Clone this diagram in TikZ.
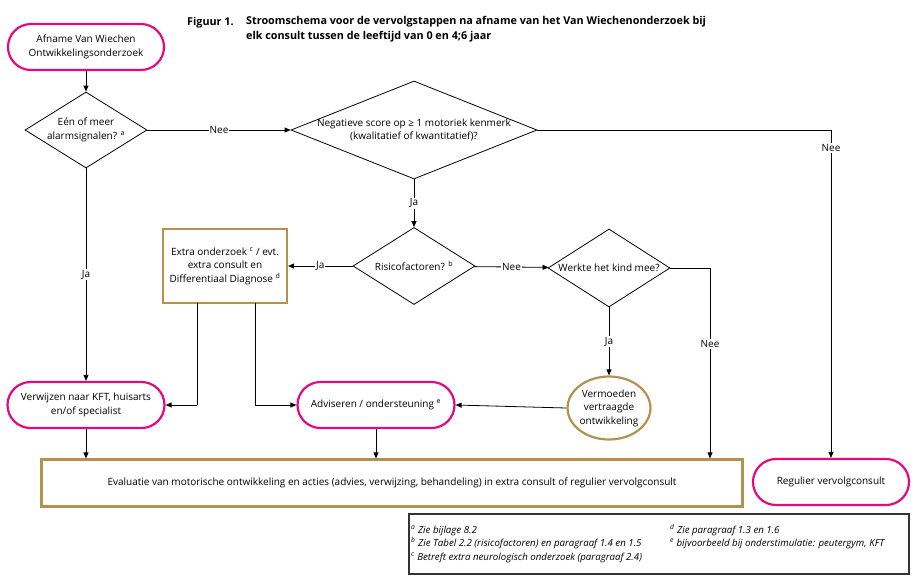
\documentclass[tikz,border=0pt]{standalone}
\usepackage{fontspec}
\setmainfont{Open Sans}
\usetikzlibrary{shapes.geometric,arrows.meta}
\definecolor{pinkc}{HTML}{E5097F}
\definecolor{goldc}{HTML}{B3914F}
\definecolor{boxgray}{HTML}{333333}
\begin{document}
\begin{tikzpicture}[x=1pt,y=-1pt,
  font=\fontsize{10}{13.5}\selectfont,
  term/.style={draw=pinkc,line width=2.2pt,rounded corners=23pt,minimum height=46pt,align=center,inner sep=0pt},
  gbox/.style={draw=goldc,line width=2.2pt,align=center,inner sep=0pt},
  dec/.style={draw,shape=diamond,line width=0.8pt,inner sep=0pt},
  arr/.style={-{Triangle[length=6pt,width=5pt]},line width=0.8pt},
  ln/.style={line width=0.8pt},
  lab/.style={fill=white,inner sep=1pt},
  fntext/.style={anchor=base west,inner sep=0pt,font=\fontsize{9.7}{13.5}\selectfont\itshape}]
\useasboundingbox (0,0) rectangle (915,582);
% title
\node[anchor=west,font=\fontsize{10.8}{15}\selectfont\bfseries,inner sep=0pt] (fig) at (187,23) {Figuur 1.};
\node[anchor=north west,align=left,font=\fontsize{10.8}{15}\selectfont\bfseries,inner sep=0pt] (title) at (246,16) {Stroomschema voor de vervolgstappen na afname van het Van Wiechenonderzoek bij\\elk consult tussen de leeftijd van 0 en 4;6 jaar};
% nodes
\node[term,minimum width=156pt] (start) at (86,47) {Afname Van Wiechen\\Ontwikkelingsonderzoek};
\node[dec,minimum width=122pt,minimum height=76pt,label={[align=center]center:Eén of meer\\alarmsignalen? \textsuperscript{a}}] (d1) at (86,130) {};
\node[dec,minimum width=246pt,minimum height=98pt,label={[align=center]center:Negatieve score op ≥ 1 motoriek kenmerk\\(kwalitatief of kwantitatief)?}] (d2) at (414,130) {};
\node[dec,minimum width=122pt,minimum height=77pt,label={center:Risicofactoren? \textsuperscript{b}}] (d3) at (414,266) {};
\node[dec,minimum width=122pt,minimum height=78pt,label={center:Werkte het kind mee?}] (d4) at (609,268) {};
\node[gbox,minimum width=124pt,minimum height=74pt] (extra) at (225,266) {Extra onderzoek \textsuperscript{c} / evt.\\extra consult en\\Differentiaal Diagnose \textsuperscript{d}};
\node[draw=goldc,line width=2.2pt,shape=ellipse,minimum width=77pt,minimum height=63pt,inner sep=0pt,align=center] (verm) at (609,408) {Vermoeden\\vertraagde\\ontwikkeling};
\node[term,minimum width=157pt] (verw) at (86,405) {Verwijzen naar KFT, huisarts\\en/of specialist};
\node[term,minimum width=157pt] (adv) at (376,405) {Adviseren / ondersteuning \textsuperscript{e}};
\node[gbox,minimum width=701pt,minimum height=47pt] (eval) at (392,483) {Evaluatie van motorische ontwikkeling en acties (advies, verwijzing, behandeling) in extra consult of regulier vervolgconsult};
\node[term,minimum width=156pt] (reg) at (831,482) {Regulier vervolgconsult};
% footnotes
\node[draw=boxgray,line width=1.2pt,minimum width=500pt,minimum height=60pt,inner sep=0pt] (fn) at (659,544) {};
\node[fntext] (fna) at (411,533) {\textsuperscript{a} Zie bijlage 8.2};
\node[fntext] (fnb) at (411,546.5) {\textsuperscript{b} Zie Tabel 2.2 (risicofactoren) en paragraaf 1.4 en 1.5};
\node[fntext] (fnc) at (411,560) {\textsuperscript{c} Betreft extra neurologisch onderzoek (paragraaf 2.4)};
\node[fntext] (fnd) at (670,533) {\textsuperscript{d} Zie paragraaf 1.3 en 1.6};
\node[fntext] (fne) at (670,546.5) {\textsuperscript{e} bijvoorbeeld bij onderstimulatie: peutergym, KFT};
% coordinates
\coordinate (c2) at (831,130);
\coordinate (c4) at (710,268);
\coordinate (e1) at (197,303);
\coordinate (e1b) at (197,405);
\coordinate (e2) at (255,303);
\coordinate (e2b) at (255,405);
% connectors
\draw[arr] (start) -- (d1);
\draw[arr] (d1) -- node[lab]{Nee} (d2);
\draw[arr] (d1) -- node[lab]{Ja} (verw);
\draw[ln] (d2.east) -- (c2);
\draw[arr] (c2) -- (reg.north);
\node[lab] (nee2) at (831,148) {Nee};
\draw[arr] (d2) -- node[lab]{Ja} (d3);
\draw[arr] (d3) -- node[lab]{Ja} (extra);
\draw[arr] (d3) -- node[lab]{Nee} (d4);
\draw[arr] (d4) -- node[lab]{Ja} (verm);
\draw[ln] (d4.east) -- (c4);
\draw[arr] (c4) -- (eval.north -| c4);
\node[lab] (nee4) at (710,344) {Nee};
\draw[ln] (e1) -- (e1b);
\draw[arr] (e1b) -- (verw.east);
\draw[ln] (e2) -- (e2b);
\draw[arr] (e2b) -- (adv.west);
\draw[arr] (verm.west) -- (adv.east);
\draw[arr] (verw) -- (eval.north -| verw);
\draw[arr] (adv) -- (eval.north -| adv);
\end{tikzpicture}
\end{document}
